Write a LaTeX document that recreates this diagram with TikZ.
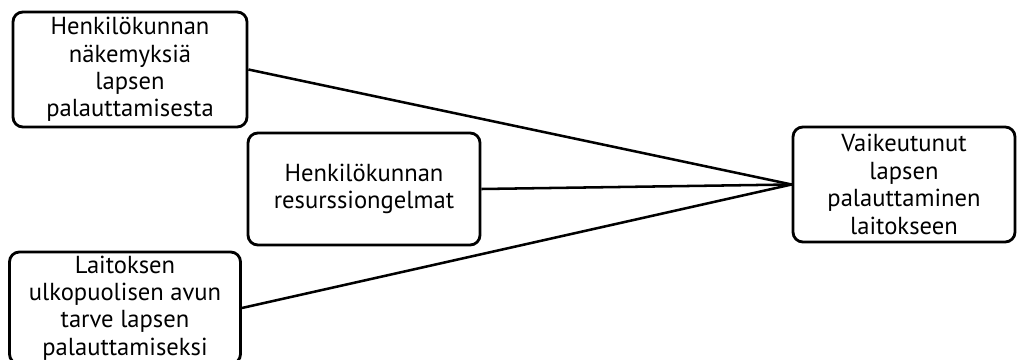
\documentclass[tikz,border=0pt]{standalone}
\usepackage{fontspec}
\setmainfont{PT Sans}
\usepackage{tikz}
\usetikzlibrary{shapes.geometric, arrows.meta, positioning, calc}
\definecolor{boxline}{HTML}{000000}

\begin{document}
\begin{tikzpicture}[x=0.025cm, y=-0.025cm,
    causebox/.style={draw=boxline, line width=2pt, rounded corners=7pt, fill=white,
      align=center, inner sep=0pt,
      font=\fontsize{17.5}{19.5}\selectfont},
    link/.style={draw=boxline, line width=1.8pt}]
    % Canvas
    \useasboundingbox (0,0) rectangle (1018,360);
    % Cause boxes
    \node[causebox, minimum width=234*0.025cm, minimum height=115*0.025cm] (views) at (130,69.5)
      {Henkilökunnan\\näkemyksiä\\lapsen\\palauttamisesta};
    \node[causebox, minimum width=232*0.025cm, minimum height=112*0.025cm] (resources) at (364,189)
      {Henkilökunnan\\resurssiongelmat};
    \node[causebox, minimum width=231*0.025cm, minimum height=112*0.025cm] (outside) at (125,308)
      {Laitoksen\\ulkopuolisen avun\\tarve lapsen\\palauttamiseksi};
    % Effect box
    \node[causebox, minimum width=222*0.025cm, minimum height=115*0.025cm] (effect) at (904,184.5)
      {Vaikeutunut\\lapsen\\palauttaminen\\laitokseen};
    % Links
    \foreach \src in {views,resources,outside} {
      \draw[link] (\src.east) -- (effect.west);
    }
  \end{tikzpicture}
\end{document}
